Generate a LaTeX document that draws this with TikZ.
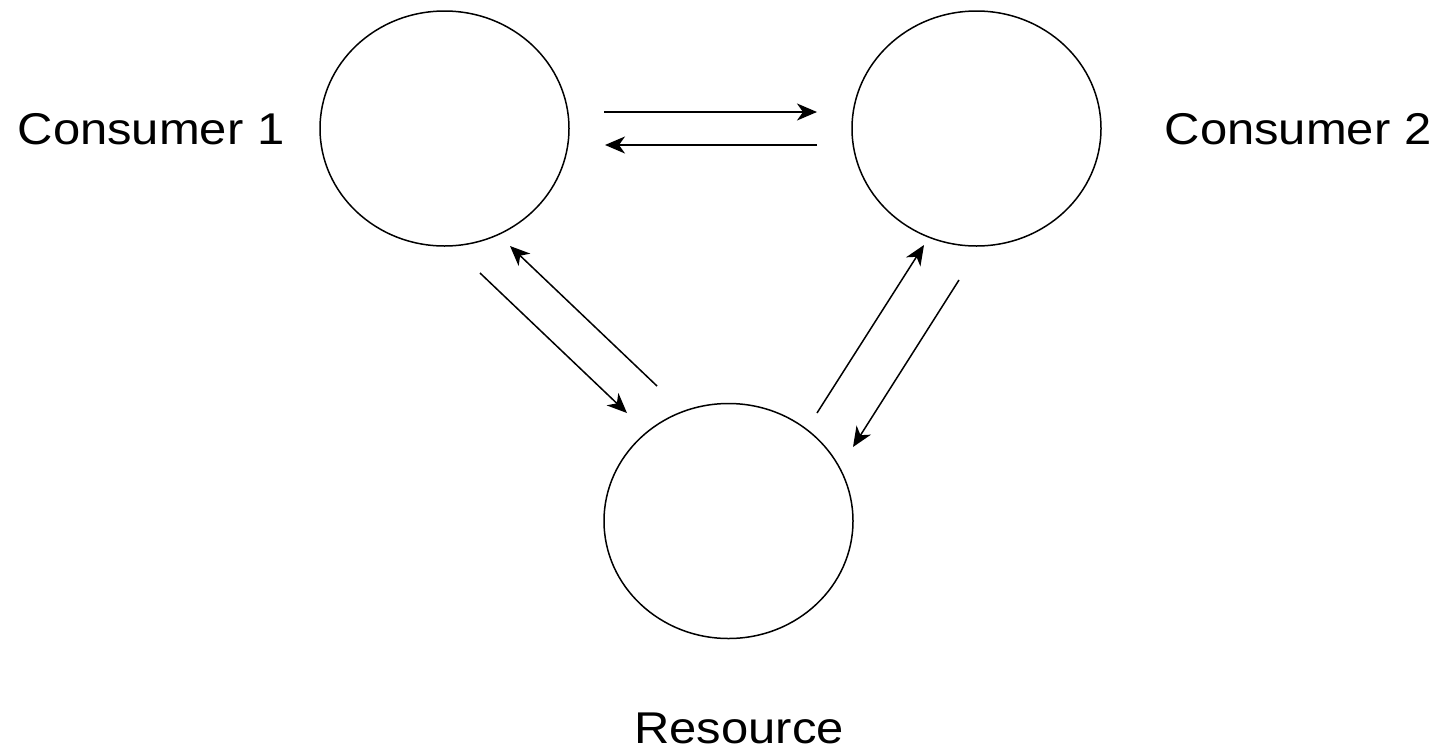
\documentclass[tikz,border=0pt]{standalone}
\usepackage{fontspec}
\setmainfont{Liberation Sans}
\usetikzlibrary{arrows.meta,shapes.geometric}
\tikzset{
  party/.style={draw, ellipse, line width=1.5pt, minimum width=249pt, minimum height=235pt, inner sep=0pt},
  flow/.style={line width=1.5pt, -{Stealth[length=20pt, width=17pt, inset=6pt]}},
  caption/.style={anchor=base, inner sep=0pt, font=\fontsize{44.5}{50}\selectfont},
}
\newcommand{\wide}[1]{\scalebox{1.1}[1]{#1}}
\begin{document}
\begin{tikzpicture}[x=1pt, y=-1pt]
  \useasboundingbox (0,0) rectangle (1444,753);
  % the three parties
  \node[party] (c1) at (444.5,128.5) {};
  \node[party] (c2) at (976.5,128.5) {};
  \node[party] (res) at (728.5,521) {};
  % labels
  \node[caption] (l1) at (151,144) {\wide{Consumer 1}};
  \node[caption] (l2) at (1298,144) {\wide{Consumer 2}};
  \node[caption] (l3) at (739,743) {\wide{Resource}};
  % message endpoints between consumers
  \coordinate (a1s) at (604,112);  \coordinate (a1e) at (817,112);
  \coordinate (a2s) at (817,145);  \coordinate (a2e) at (605,145);
  % consumer 1 and resource
  \coordinate (b1s) at (480,273);  \coordinate (b1e) at (627,413);
  \coordinate (b2s) at (657,386);  \coordinate (b2e) at (510,246);
  % consumer 2 and resource
  \coordinate (d1s) at (817,413);  \coordinate (d1e) at (924,245);
  \coordinate (d2s) at (959,280);  \coordinate (d2e) at (853,447);
  \draw[flow] (a1s) -- (a1e);
  \draw[flow] (a2s) -- (a2e);
  \draw[flow] (b1s) -- (b1e);
  \draw[flow] (b2s) -- (b2e);
  \draw[flow] (d1s) -- (d1e);
  \draw[flow] (d2s) -- (d2e);
\end{tikzpicture}
\end{document}
